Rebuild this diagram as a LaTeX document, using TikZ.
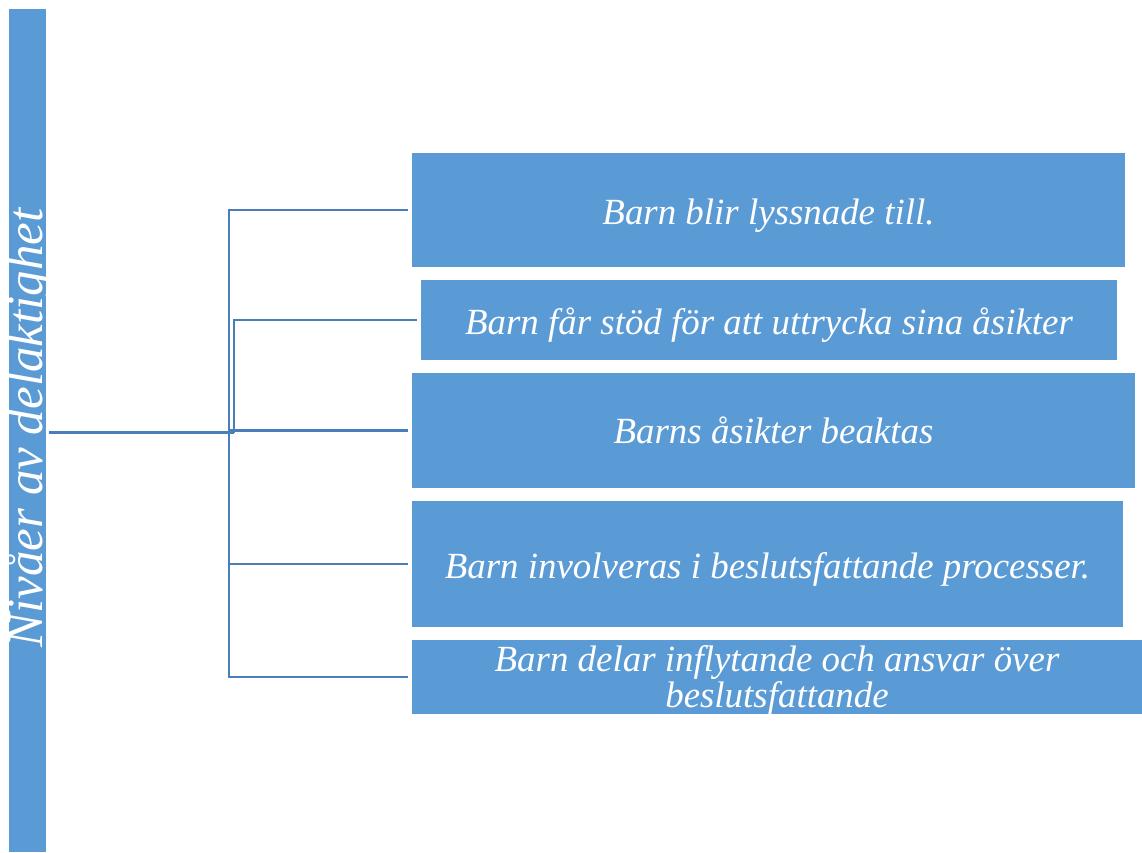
\documentclass[tikz,border=0pt]{standalone}
\usepackage{fontspec}
\setmainfont{Liberation Serif}
\usetikzlibrary{calc}
\definecolor{boxblue}{HTML}{5B9BD5}
\definecolor{lineblue}{HTML}{4A7EBB}
\tikzset{
	levelbox/.style={rectangle, fill=boxblue, inner sep=0pt, text=white, align=center,
		font=\fontsize{21}{20.5}\selectfont\itshape},
	link/.style={line width=0.05cm, color=lineblue}
}

\begin{document}
\begin{tikzpicture}[x=0.02cm, y=-0.02cm]
		%%%%% START %%%%%
		\useasboundingbox (0, 0) rectangle (1142, 852);
		
		\node[levelbox, minimum width=0.74cm, minimum height=16.86cm] (bar) at (27.5, 430.5) {};
		\node[rotate=90, text=white, font=\fontsize{29}{30}\selectfont\itshape] (title) at (30, 428) {Nivåer av delaktighet};
		
		\node[levelbox, minimum width=14.26cm, minimum height=2.28cm] (b1) at (768.5, 210) {\raisebox{-3pt}[\height][\depth]{Barn blir lyssnade till.}};
		\node[levelbox, minimum width=13.92cm, minimum height=1.6cm] (b2) at (769, 320) {\raisebox{-3pt}[\height][\depth]{Barn får stöd för att uttrycka sina åsikter}};
		\node[levelbox, minimum width=14.46cm, minimum height=2.3cm] (b3) at (773.5, 430.5) {Barns åsikter beaktas};
		\node[levelbox, minimum width=14.22cm, minimum height=2.52cm] (b4) at (767.5, 564) {\raisebox{-3pt}[\height][\depth]{Barn involveras i beslutsfattande processer.}};
		\node[levelbox, minimum width=14.6cm, minimum height=1.48cm] (b5) at (777, 677) {\raisebox{-2pt}[\height][\depth]{Barn delar inflytande och ansvar över}\\\raisebox{-2pt}[\height][\depth]{beslutsfattande}};
		
		\coordinate (hub) at (229, 432.5);
		\coordinate (hubb) at (234, 432.5);
		
		\draw[link] ([xshift=1.5]bar.east |- hub) -- (hubb);
		\draw[link] (hub) |- ([xshift=-2]b1.west);
		\draw[link] (hub) |- ([xshift=-2]b5.west);
		\draw[link] (hub |- b4.west) -- ([xshift=-2]b4.west);
		\draw[link] (hub |- b3.west) -- ([xshift=-2]b3.west);
		\draw[link] (hubb) |- ([xshift=-2]b2.west);
		
		%%%%% END %%%%%
\end{tikzpicture}
\end{document}
